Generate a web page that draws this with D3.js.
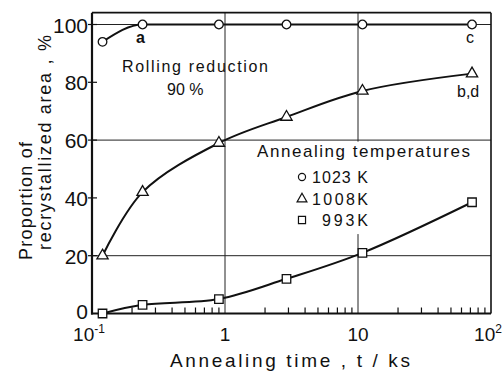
<!DOCTYPE html>
<html>
<head>
<meta charset="utf-8">
<script src="https://cdn.jsdelivr.net/npm/d3@7"></script>
<style>
body { margin: 0; background: #fff; }
text { font-family: "Liberation Sans", Arial, sans-serif; fill: #111; }
</style>
</head>
<body>
<div id="chart"></div>
<script>
const width = 504;
const height = 375;

// annealing time (ks) and recrystallized area (%)
const times = [0.12, 0.24, 0.9, 2.9, 10.8, 72];
const area1023 = [94, 100, 100, 100, 100, 100];
const area1008 = [20, 42, 59, 68, 77, 83];
const area993 = [0, 3, 5, 12, 21, 38.5];

const yTicks = [0, 20, 40, 60, 80, 100];
const yGrid = [20, 60, 100];
const xGrid = [1, 10];
const xTickValues = [0.1, 1, 10, 100];
const xTickBase = ["10", "1", "10", "10"];
const xTickSup = ["-1", "", "", "2"];

const legendNames = ["1023 K", "1008K", "993K"];

const svg = d3.select("#chart").append("svg")
    .attr("width", width)
    .attr("height", height);

const x = d3.scaleLog().domain([0.1, 100]).range([92, 491]);
const y = d3.scaleLinear().domain([0, 100]).range([313.5, 24.5]);
const yTop = y(104.1);

// grid lines
svg.append("g").selectAll("line")
    .data(yGrid)
    .join("line")
    .attr("x1", x(0.1)).attr("x2", x(100))
    .attr("y1", d => y(d)).attr("y2", d => y(d))
    .attr("stroke", "#222").attr("stroke-width", 1);

svg.append("g").selectAll("line")
    .data(xGrid)
    .join("line")
    .attr("x1", d => x(d)).attr("x2", d => x(d))
    .attr("y1", yTop).attr("y2", y(0))
    .attr("stroke", "#222").attr("stroke-width", 1);

// the legend hides the 10 ks grid line
svg.append("rect")
    .attr("x", x(10) - 6).attr("y", y(60) + 1.5)
    .attr("width", 12).attr("height", y(28) - y(60))
    .attr("fill", "#fff");

// frame
svg.append("line")
    .attr("x1", x(0.1)).attr("x2", x(100))
    .attr("y1", yTop).attr("y2", yTop)
    .attr("stroke", "#111").attr("stroke-width", 1.6);
svg.append("line")
    .attr("x1", x(100)).attr("x2", x(100))
    .attr("y1", yTop).attr("y2", y(0))
    .attr("stroke", "#111").attr("stroke-width", 1.6);
svg.append("line")
    .attr("x1", x(0.1)).attr("x2", x(0.1))
    .attr("y1", yTop).attr("y2", y(0) + 1)
    .attr("stroke", "#111").attr("stroke-width", 2.2);
svg.append("line")
    .attr("x1", x(0.1) - 1).attr("x2", x(100))
    .attr("y1", y(0)).attr("y2", y(0))
    .attr("stroke", "#111").attr("stroke-width", 2.2);

// minor ticks on the time axis
const minor = x.ticks().filter(d => !xTickValues.includes(d) && !xGrid.includes(d));
svg.append("g").selectAll("line")
    .data(minor)
    .join("line")
    .attr("x1", d => x(d)).attr("x2", d => x(d))
    .attr("y1", y(0)).attr("y2", y(0) - 6)
    .attr("stroke", "#111").attr("stroke-width", 1.2);

// y ticks
svg.append("g").selectAll("line")
    .data(yTicks.filter(d => d > 0))
    .join("line")
    .attr("x1", x(0.1) - 4).attr("x2", x(0.1) + 5)
    .attr("y1", d => y(d)).attr("y2", d => y(d))
    .attr("stroke", "#111").attr("stroke-width", 1.2);

svg.append("g").selectAll("text")
    .data(yTicks)
    .join("text")
    .attr("x", 88)
    .attr("y", d => y(d) + (d === 0 ? 5 : 8))
    .attr("text-anchor", "end")
    .style("font-size", "21px")
    .text(d => d);

// x tick labels
const xLab = svg.append("g").selectAll("text")
    .data(xTickValues)
    .join("text")
    .attr("x", (d, i) => x(d) + (xTickSup[i] ? -3 : 0))
    .attr("y", 341)
    .attr("text-anchor", "middle")
    .style("font-size", "19px");
xLab.append("tspan").text((d, i) => xTickBase[i]);
xLab.append("tspan")
    .attr("dy", -8)
    .style("font-size", "12px")
    .text((d, i) => xTickSup[i]);

// axis titles
svg.append("text")
    .attr("x", 170).attr("y", 367)
    .attr("textLength", 240).attr("lengthAdjust", "spacing")
    .style("font-size", "19px")
    .text("Annealing time , t / ks");

svg.append("text")
    .attr("transform", "translate(32,260) rotate(-90)")
    .attr("textLength", 118).attr("lengthAdjust", "spacing")
    .style("font-size", "18px")
    .text("Proportion of");

svg.append("text")
    .attr("transform", "translate(51,250) rotate(-90)")
    .attr("textLength", 215).attr("lengthAdjust", "spacing")
    .style("font-size", "18px")
    .text("recrystallized area , %");

// curves
const series = [area1023, area1008, area993];
const curves = [d3.curveMonotoneX, d3.curveCatmullRom.alpha(0.5), d3.curveCatmullRom.alpha(0.5)];
const symbols = [d3.symbolCircle, d3.symbolTriangle, d3.symbolSquare];
const symbolSizes = [58, 55, 72];
const legendSizes = [40, 42, 50];

svg.append("g").selectAll("path")
    .data(series)
    .join("path")
    .attr("d", (d, k) => d3.line()
        .x((v, i) => x(times[i]))
        .y(v => y(v))
        .curve(curves[k])(d))
    .attr("fill", "none")
    .attr("stroke", "#111")
    .attr("stroke-width", 2);

series.forEach((s, k) => {
    svg.append("g").selectAll("path")
        .data(s)
        .join("path")
        .attr("transform", (d, i) => `translate(${x(times[i])},${y(d)})`)
        .attr("d", d3.symbol().type(symbols[k]).size(symbolSizes[k]))
        .attr("fill", "#fff")
        .attr("stroke", "#111")
        .attr("stroke-width", 1.3);
});

// annotations
svg.append("text").attr("x", 136).attr("y", 43)
    .style("font-size", "16px").style("font-weight", "bold").text("a");
svg.append("text").attr("x", 466).attr("y", 43)
    .style("font-size", "16px").text("c");
svg.append("text").attr("x", 457).attr("y", 97)
    .style("font-size", "16px").text("b,d");

svg.append("text")
    .attr("x", 122).attr("y", 72)
    .attr("textLength", 146).attr("lengthAdjust", "spacing")
    .style("font-size", "16px")
    .text("Rolling reduction");
svg.append("text")
    .attr("x", 167).attr("y", 95)
    .style("font-size", "16px")
    .text("90 %");

// legend
svg.append("text")
    .attr("x", 257).attr("y", 157)
    .attr("textLength", 213).attr("lengthAdjust", "spacing")
    .style("font-size", "17px")
    .text("Annealing temperatures");

const legendY = [177, 199, 220];
const legendTextX = [312, 312, 322];
legendNames.forEach((name, k) => {
    svg.append("path")
        .attr("transform", `translate(302,${legendY[k]})`)
        .attr("d", d3.symbol().type(symbols[k]).size(legendSizes[k]))
        .attr("fill", "#fff")
        .attr("stroke", "#111")
        .attr("stroke-width", 1.2);
    svg.append("text")
        .attr("x", legendTextX[k]).attr("y", legendY[k] + 6)
        .attr("textLength", 368 - legendTextX[k]).attr("lengthAdjust", "spacing")
        .style("font-size", "16px")
        .text(name);
});
</script>
</body>
</html>
